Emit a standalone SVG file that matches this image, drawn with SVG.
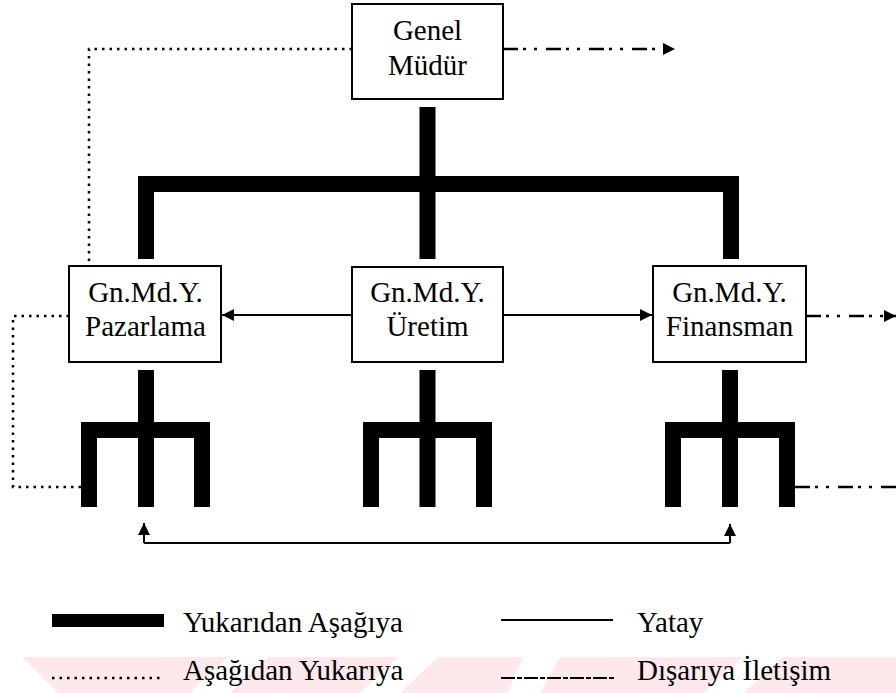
<svg xmlns="http://www.w3.org/2000/svg" width="896" height="693" viewBox="0 0 896 693">
  <style>
    .box { fill: #fff; stroke: #000; stroke-width: 2; }
    .lbl { font-family: "Liberation Serif", serif; font-size: 29px; fill: #000; }
    .mid { text-anchor: middle; }
    .bar { fill: #000; }
    .flat { fill: none; stroke: #000; stroke-width: 2; }
    .dot { fill: none; stroke: #000; stroke-width: 2.5; stroke-dasharray: 2.5 5; }
    .dd { fill: none; stroke: #000; stroke-width: 2.5; stroke-dasharray: 15 5 3 8 3 9; }
    .wm { fill: #fde8eb; }
  </style>
  <defs>
    <marker id="tri" viewBox="0 0 10 10" refX="10" refY="5" markerWidth="6" markerHeight="7" orient="auto" markerUnits="strokeWidth">
      <path d="M0,0 L10,5 L0,10 Z" fill="#000"/>
    </marker>
    <marker id="tri2" viewBox="0 0 10 10" refX="10" refY="5" markerWidth="5" markerHeight="5.5" orient="auto" markerUnits="strokeWidth">
      <path d="M0,0 L10,5 L0,10 Z" fill="#000"/>
    </marker>
  </defs>

  <rect width="896" height="693" fill="#fff"/>

  <!-- faint background watermark stripes -->
  <g id="watermark">
    <polygon class="wm" points="22,657 228,657 190,693 58,693"/>
    <polygon class="wm" points="268,657 398,657 360,693 230,693"/>
    <polygon class="wm" points="438,657 523,657 508,693 400,693"/>
    <polygon class="wm" points="560,657 742,657 704,693 540,693"/>
    <polygon class="wm" points="782,657 896,657 896,693 744,693"/>
  </g>

  <g id="connectors">
    <!-- top-down thick tree -->
    <g id="top-down">
      <rect class="bar" x="419.5" y="107" width="16" height="152"/>
      <rect class="bar" x="138" y="176" width="601" height="16"/>
      <rect class="bar" x="138" y="176" width="16" height="83"/>
      <rect class="bar" x="723" y="176" width="16" height="83"/>
    </g>
    <!-- sub-unit forks -->
    <g id="fork-pazarlama">
      <rect class="bar" x="138" y="370" width="16" height="137"/>
      <rect class="bar" x="81" y="422" width="129" height="16"/>
      <rect class="bar" x="81" y="422" width="16" height="85"/>
      <rect class="bar" x="194" y="422" width="16" height="85"/>
    </g>
    <g id="fork-uretim">
      <rect class="bar" x="419.5" y="370" width="16" height="137"/>
      <rect class="bar" x="363" y="422" width="129" height="16"/>
      <rect class="bar" x="363" y="422" width="16" height="85"/>
      <rect class="bar" x="476" y="422" width="16" height="85"/>
    </g>
    <g id="fork-finansman">
      <rect class="bar" x="722" y="370" width="16" height="137"/>
      <rect class="bar" x="665" y="422" width="130" height="16"/>
      <rect class="bar" x="665" y="422" width="16" height="85"/>
      <rect class="bar" x="779" y="422" width="16" height="85"/>
    </g>

    <!-- horizontal links -->
    <line class="flat" x1="352" y1="315" x2="222" y2="315" marker-end="url(#tri)"/>
    <line class="flat" x1="503" y1="315" x2="652" y2="315" marker-end="url(#tri)"/>
    <path class="flat" d="M144,543 H730" />
    <line class="flat" x1="144" y1="543" x2="144" y2="523" marker-end="url(#tri)"/>
    <line class="flat" x1="730" y1="543" x2="730" y2="524" marker-end="url(#tri)"/>

    <!-- bottom-up dotted paths -->
    <path class="dot" d="M352,49 H89 V266"/>
    <path class="dot" d="M69,316 H13 V487 H81"/>

    <!-- outward communication -->
    <line class="dd" x1="503" y1="49" x2="675" y2="49" marker-end="url(#tri2)"/>
    <line class="dd" x1="806" y1="316" x2="896" y2="316" marker-end="url(#tri2)"/>
    <line class="dd" x1="795" y1="487" x2="896" y2="487"/>
  </g>

  <g id="genel-mudur">
    <rect class="box" x="352" y="4" width="151" height="95"/>
    <text class="lbl mid" x="427.5" y="40">Genel</text>
    <text class="lbl mid" x="427.5" y="75">Müdür</text>
  </g>
  <g id="gmy-pazarlama">
    <rect class="box" x="69" y="266" width="152" height="96"/>
    <text class="lbl mid" x="145.5" y="302">Gn.Md.Y.</text>
    <text class="lbl mid" x="145.5" y="336">Pazarlama</text>
  </g>
  <g id="gmy-uretim">
    <rect class="box" x="352" y="267" width="151" height="95"/>
    <text class="lbl mid" x="427.5" y="302">Gn.Md.Y.</text>
    <text class="lbl mid" x="427.5" y="336">Üretim</text>
  </g>
  <g id="gmy-finansman">
    <rect class="box" x="653" y="266" width="153" height="96"/>
    <text class="lbl mid" x="729.5" y="302">Gn.Md.Y.</text>
    <text class="lbl mid" x="729.5" y="336">Finansman</text>
  </g>

  <g id="legend">
    <rect class="bar" x="52" y="614" width="112" height="13"/>
    <text class="lbl" x="183" y="632">Yukarıdan Aşağıya</text>
    <line class="flat" x1="501" y1="620" x2="613" y2="620"/>
    <text class="lbl" x="637" y="632">Yatay</text>
    <line class="dot" x1="52" y1="678" x2="164" y2="678" stroke-width="2" stroke-dasharray="2 3"/>
    <text class="lbl" x="183" y="680">Aşağıdan Yukarıya</text>
    <line class="flat" x1="501" y1="678" x2="616" y2="678" stroke-dasharray="14 2 5 2"/>
    <text class="lbl" x="637" y="680">Dışarıya İletişim</text>
  </g>
</svg>
